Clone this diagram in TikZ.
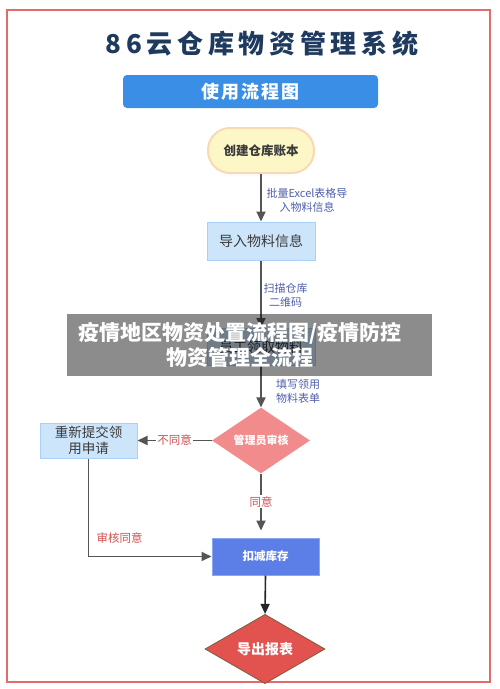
\documentclass[tikz,border=0pt]{standalone}
\usepackage{fontspec}
\usetikzlibrary{arrows.meta,shapes.geometric}
\newfontfamily\cjk{Noto Sans CJK SC}
\newfontfamily\cjktitle[LetterSpace=18]{Noto Sans CJK SC}
\newfontfamily\cjkhead[LetterSpace=10]{Noto Sans CJK SC}
\definecolor{framered}{HTML}{E06C6C}
\definecolor{titlenavy}{HTML}{1F3A5F}
\definecolor{headblue}{HTML}{3A8EE6}
\definecolor{startfill}{HTML}{FDF6C6}
\definecolor{startline}{HTML}{F8D9B5}
\definecolor{boxfill}{HTML}{CCE5FB}
\definecolor{boxline}{HTML}{A9D1F5}
\definecolor{lblblue}{HTML}{4E5EAA}
\definecolor{lblred}{HTML}{D05050}
\definecolor{audfill}{HTML}{F28B8B}
\definecolor{dedfill}{HTML}{5B7FE6}
\definecolor{dedline}{HTML}{8AA8F0}
\definecolor{expfill}{HTML}{E2524F}
\definecolor{expline}{HTML}{7A5E40}
\definecolor{arrgray}{HTML}{555555}
\definecolor{txtdark}{HTML}{3A3A3A}
\begin{document}
\begin{tikzpicture}[x=1pt,y=-1pt,font=\cjk,
  arr/.style={draw=arrgray,line width=1.8pt,-{Triangle[width=9pt,length=10pt]}},
  arrdark/.style={draw=black!85,line width=1.6pt,-{Triangle[width=9pt,length=10pt]}},
  lightbox/.style={draw=boxline,line width=1pt,fill=boxfill,inner sep=0pt,text=txtdark},
  bluelbl/.style={text=lblblue,align=center,inner sep=0pt,font=\cjk\fontsize{11}{14}\selectfont},
  redlbl/.style={text=lblred,inner sep=1pt,font=\cjk\fontsize{11.5}{14}\selectfont}]
\useasboundingbox (0,0) rectangle (500,689);
\node[draw=framered,line width=1.6pt,minimum width=483pt,minimum height=672pt,inner sep=0pt] (frame) at (248.5,346) {};
\node[text=titlenavy,inner sep=0pt] (title) at (262,44) {\cjktitle\bfseries\fontsize{26}{30}\selectfont 86云仓库物资管理系统};
\node[fill=headblue,rounded corners=4pt,minimum width=255pt,minimum height=33pt,inner sep=0pt,text=white] (head) at (250.5,91.5) {\cjkhead\bfseries\fontsize{18}{20}\selectfont 使用流程图};
\node[draw=startline,line width=2pt,fill=startfill,rounded corners=22pt,minimum width=106pt,minimum height=45pt,inner sep=0pt,text=txtdark,font=\cjk\bfseries\fontsize{12.5}{14}\selectfont] (start) at (261,150.5) {创建仓库账本};
\node[lightbox,minimum width=108pt,minimum height=38pt,font=\cjk\fontsize{14}{16}\selectfont] (imp) at (261,241) {导入物料信息};
\node[lightbox,minimum width=108pt,minimum height=37pt,font=\cjk\fontsize{14}{16}\selectfont] (emp) at (261,347) {员工领取物料};
\node[diamond,fill=audfill,minimum width=98pt,minimum height=45pt,inner sep=0pt,text=white,font=\cjk\bfseries\fontsize{11}{13}\selectfont] (aud) at (261,440.5) {管理员审核};
\node[lightbox,minimum width=97pt,minimum height=35pt,align=center,font=\cjk\fontsize{13.5}{16}\selectfont] (resub) at (88.5,440.5) {重新提交领\\用申请};
\node[draw=dedline,line width=1pt,fill=dedfill,minimum width=107pt,minimum height=37pt,inner sep=0pt,text=white,font=\cjk\bfseries\fontsize{11.5}{13}\selectfont] (ded) at (265.5,556.5) {扣减库存};
\node[diamond,draw=expline,line width=0.8pt,fill=expfill,minimum width=120pt,minimum height=62pt,inner sep=0pt,text=white,font=\cjk\bfseries\fontsize{14}{16}\selectfont] (exp) at (265,649) {导出报表};
\draw[arr] (start.south) -- (imp.north);
\draw[arr] (imp.south) -- (emp.north);
\draw[arr] (emp.south) -- (aud.north);
\draw[arr] (aud.west) -- node[redlbl,fill=white] {不同意} (resub.east);
\draw[arr,shorten >=7pt] (aud.south) -- node[redlbl,fill=white,pos=0.44] {同意} (aud.south |- ded.north);
\draw[arr] (resub.south) |- node[redlbl,pos=0.627,yshift=18pt] {审核同意} (ded.west);
\draw[arrdark] (ded.south) -- (exp.north);
\node[bluelbl] (l1) at (307,200) {批量Excel表格导\\入物料信息};
\node[bluelbl] (l2) at (285.5,295.5) {扫描仓库\\二维码};
\node[bluelbl] (l3) at (298,391.5) {填写领用\\物料表单};
\node[fill=black,fill opacity=0.45,minimum width=365pt,minimum height=62pt,inner sep=0pt] (banner) at (249.5,344.5) {};
\node[text=white,align=center,inner sep=0pt,font=\cjk\bfseries\fontsize{21}{25}\selectfont] (bantext) at (240,344.5) {疫情地区物资处置流程图/疫情防控\\物资管理全流程};
\end{tikzpicture}
\end{document}
